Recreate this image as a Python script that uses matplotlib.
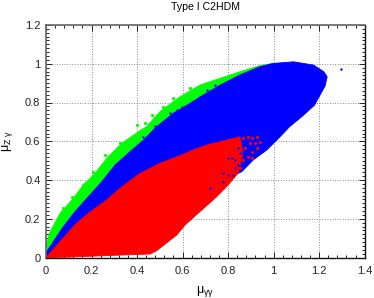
import numpy as np
import matplotlib
matplotlib.use("Agg")
import matplotlib.pyplot as plt
from matplotlib.ticker import MultipleLocator

plt.rcParams['font.family'] = ['Liberation Sans', 'DejaVu Sans']

# outline of each region (clockwise from origin)
green_x = [0, 0.003, 0.018, 0.062, 0.12, 0.164, 0.215, 0.267, 0.333, 0.413, 0.442, 0.50, 0.589, 0.677, 0.765, 0.852, 0.94, 1.0,
           0.8, 0.4, 0.1]
green_y = [0, 0.073, 0.133, 0.228, 0.305, 0.374, 0.434, 0.512, 0.589, 0.655, 0.675, 0.752, 0.83, 0.89, 0.925, 0.959, 0.99, 1.003,
           0.85, 0.5, 0.1]
green_dot_x = [0.464, 0.516, 0.435, 0.56, 0.633, 0.596, 0.494, 0.398, 0.325, 0.259, 0.208, 0.164, 0.113, 0.076]
green_dot_y = [0.735, 0.778, 0.692, 0.821, 0.873, 0.83, 0.71, 0.684, 0.589, 0.529, 0.443, 0.374, 0.314, 0.254]

blue_x = [0, 0.003, 0.076, 0.127, 0.193, 0.245, 0.303, 0.369, 0.428, 0.486, 0.559, 0.633, 0.691, 0.765, 0.852, 0.94, 1.0, 1.088,
          1.176, 1.22, 1.235, 1.226, 1.204, 1.18, 1.124, 1.07, 1.028, 0.97, 0.91, 0.86, 0.78, 0.6]
blue_y = [0, 0.03, 0.159, 0.236, 0.323, 0.391, 0.477, 0.546, 0.606, 0.675, 0.744, 0.796, 0.839, 0.89, 0.942, 0.985, 1.002, 1.01,
          0.993, 0.959, 0.933, 0.885, 0.839, 0.787, 0.727, 0.675, 0.623, 0.555, 0.503, 0.443, 0.4, 0.25]
blue_dot_x = [1.296, 0.428, 0.479, 0.545, 0.596, 0.677, 0.706, 0.743, 0.523, 0.574,
              0.853, 0.831, 0.816, 0.801, 0.845, 0.831, 0.779, 0.801, 0.845, 0.867, 0.823, 0.779, 0.721, 0.867]
blue_dot_y = [0.971, 0.624, 0.68, 0.744, 0.778, 0.83, 0.864, 0.89, 0.701, 0.761,
              0.538, 0.503, 0.512, 0.512, 0.477, 0.46, 0.434, 0.426, 0.563, 0.538, 0.426, 0.391, 0.357, 0.486]

red_x = [0, 0.003, 0.062, 0.127, 0.186, 0.267, 0.325, 0.413, 0.501, 0.596, 0.647, 0.706, 0.794, 0.852, 0.866, 0.844, 0.80,
         0.75, 0.684, 0.611, 0.574, 0.486, 0.457, 0.338, 0.1]
red_y = [0, 0.004, 0.082, 0.168, 0.228, 0.297, 0.357, 0.434, 0.486, 0.529, 0.555, 0.58, 0.606, 0.623, 0.539, 0.436, 0.374,
         0.314, 0.245, 0.168, 0.116, 0.035, 0.018, 0.013, 0.002]
red_dot_x = [0.926, 0.904, 0.889, 0.867, 0.94, 0.918, 0.896, 0.926, 0.904, 0.875, 0.889, 0.867, 0.904, 0.852]
red_dot_y = [0.624, 0.615, 0.624, 0.615, 0.598, 0.589, 0.589, 0.563, 0.546, 0.563, 0.52, 0.503, 0.512, 0.46]

x_ticks = [0, 0.2, 0.4, 0.6, 0.8, 1, 1.2, 1.4]
y_ticks = [0, 0.2, 0.4, 0.6, 0.8, 1, 1.2]

fig = plt.figure(figsize=(3.74, 2.98), dpi=100)
ax = fig.add_axes([46/374, 1-257.5/298, 318.7/374, 232.5/298])

ax.fill(green_x, green_y, color='#00ff00', lw=0.6, zorder=3)
ax.scatter(green_dot_x, green_dot_y, s=5, color='#00ff00', lw=0, zorder=3)
ax.fill(blue_x, blue_y, color='#0000ff', lw=0.6, zorder=4)
ax.fill(red_x, red_y, color='#ff0000', lw=0.6, zorder=5)
ax.scatter(red_dot_x, red_dot_y, s=5, color='#ff0000', lw=0, zorder=5)
ax.scatter(blue_dot_x, blue_dot_y, s=3, color='#0000ff', lw=0, zorder=6)

ax.set_xlim(0, 1.4)
ax.set_ylim(0, 1.2)
ax.set_xticks(x_ticks)
ax.set_yticks(y_ticks)
ax.set_xticklabels(['0', '0.2', '0.4', '0.6', '0.8', '1', '1.2', '1.4'])
ax.set_yticklabels(['0', '0.2', '0.4', '0.6', '0.8', '1', '1.2'])
ax.xaxis.set_minor_locator(MultipleLocator(0.04))
ax.yaxis.set_minor_locator(MultipleLocator(0.02))
ax.tick_params(which='major', direction='in', length=4, width=0.7, top=True, right=True, labelsize=8, colors='#222222')
ax.tick_params(which='minor', direction='in', length=2.2, width=0.7, top=True, right=True, colors='#222222')
ax.tick_params(axis='x', which='major', pad=6)
ax.tick_params(axis='y', which='major', pad=4)
ax.grid(True, which='major', ls=':', lw=0.7, color='#888888', zorder=1)
ax.set_axisbelow(True)
for name, s in ax.spines.items():
    s.set_zorder(7)
    if name in ('top', 'left'):
        s.set_linewidth(1.2)
        s.set_color('#666666')
    else:
        s.set_linewidth(1.0)
        s.set_color('#111111')

ax.set_xlabel('μ$_{\\mathregular{γγ}}$', fontsize=9, labelpad=6)
ax.set_ylabel('μ$_{\\mathregular{Z\\ γ}}$', fontsize=9)
ax.yaxis.set_label_coords(-0.098, 0.5)
ax.set_title('Type I C2HDM', fontsize=7.6, pad=11)

fig.savefig('out.png', dpi=100)
